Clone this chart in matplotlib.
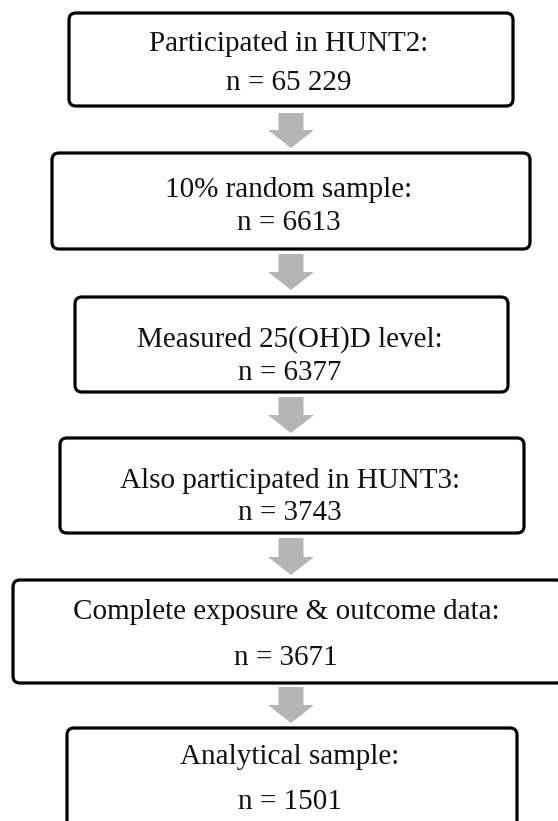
import matplotlib
matplotlib.use("Agg")
import matplotlib.pyplot as plt
from matplotlib.patches import FancyBboxPatch, FancyArrow

# flowchart content
step_labels = ["Participated in HUNT2:",
               "10% random sample:",
               "Measured 25(OH)D level:",
               "Also participated in HUNT3:",
               "Complete exposure & outcome data:",
               "Analytical sample:"]
step_counts = ["65 229", "6613", "6377", "3743", "3671", "1501"]

# layout in pixels (left, right, top, bottom) and text rows
box_x = [(69, 513), (52, 530), (75, 508), (60, 524), (13, 563), (67, 517)]
box_y = [(13, 106), (153, 249), (297, 392), (438, 533), (580, 683), (728, 830)]
text_y = [(44, 83), (190, 223), (340, 373), (481, 513), (612, 658), (757, 802)]
arrow_y = [(113, 148), (254, 290), (397, 433), (538, 575), (687, 723)]
arrow_x = 291

fig = plt.figure(figsize=(5.58, 8.21), dpi=100)
ax = fig.add_axes([0, 0, 1, 1])
ax.set_xlim(0, 558)
ax.set_ylim(821, 0)
ax.axis("off")

font = dict(family=["Liberation Serif", "DejaVu Serif"], fontsize=21, color="#111111",
            ha="center", va="center")

for i in range(len(step_labels)):
    x0, x1 = box_x[i]
    y0, y1 = box_y[i]
    box = FancyBboxPatch((x0, y0), x1 - x0, y1 - y0,
                         boxstyle="round,pad=0,rounding_size=7",
                         fc="white", ec="black", lw=2.3)
    ax.add_patch(box)
    cx = (x0 + x1) / 2 - 2
    ax.text(cx, text_y[i][0], step_labels[i], **font)
    ax.text(cx, text_y[i][1], "n = " + step_counts[i], **font)

for (a0, a1) in arrow_y:
    ax.add_patch(FancyArrow(arrow_x, a0, 0, a1 - a0, width=25, head_width=46,
                            head_length=18, length_includes_head=True,
                            fc="#b5b5b5", ec="none"))

fig.savefig("out.png", dpi=100)
